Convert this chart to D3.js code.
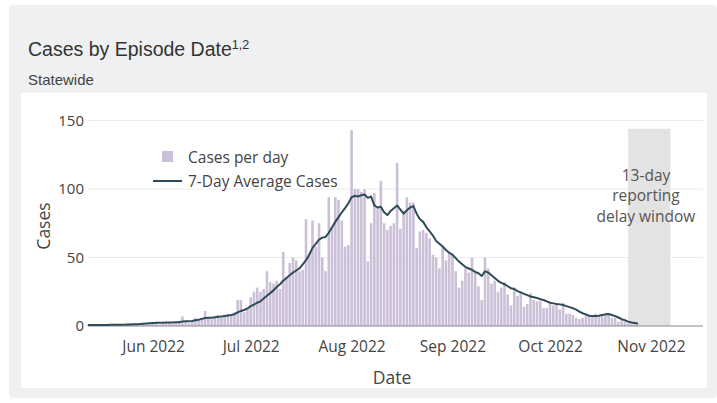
<!DOCTYPE html>
<html>
<head>
<meta charset="utf-8">
<script src="https://cdn.jsdelivr.net/npm/d3@7/dist/d3.min.js"></script>
<style>
  html, body { margin: 0; padding: 0; background: #ffffff; }
  svg { display: block; }
</style>
</head>
<body>
<svg id="chart" width="717" height="403"></svg>
<script>
// ---------------- DATA ----------------
const startDate = "2022-05-12";           // first day of the series
const casesPerDay = [
  // May 12 - May 31
  1,1,0,1,1,0,1,0,1,1,1,0,1,2,1,1,2,2,1,2,
  // Jun 1 - Jun 30
  3,2,1,2,3,2,2,3,4,7,3,2,3,6,5,6,11,6,5,7,8,6,7,9,8,10,19,19,10,13,
  // Jul 1 - Jul 31
  21,25,28,25,27,40,32,31,33,27,54,36,46,50,48,40,41,78,53,77,58,75,50,40,94,72,94,92,77,58,59,
  // Aug 1 - Aug 31
  143,100,100,98,100,47,75,97,86,106,75,70,73,75,119,71,84,94,90,90,57,69,70,68,64,52,50,42,58,48,53,
  // Sep 1 - Sep 30
  53,40,28,33,42,39,50,39,29,19,50,42,31,33,25,28,32,23,15,28,22,25,14,16,24,19,18,18,13,13,
  // Oct 1 - Oct 28
  16,15,16,12,17,9,9,8,6,5,6,9,7,7,9,8,7,8,8,6,6,3,5,3,2,1,1,1
];
const avgCases = [
  // May 12 - May 31
  0.8,0.8,0.8,0.8,0.8,0.8,0.8,0.9,0.9,1.0,1.0,1.0,1.1,1.1,1.2,1.3,1.4,1.6,1.8,2.0,
  // Jun 1 - Jun 30
  2.2,2.3,2.4,2.4,2.5,2.6,2.6,2.7,2.8,3.2,3.4,3.5,3.6,4.2,4.6,5.2,5.8,6.0,6.1,6.4,6.8,7.0,7.3,7.6,8.0,8.6,10.0,11.0,11.7,12.8,
  // Jul 1 - Jul 31
  14.5,15.5,17.0,18.0,20.0,22.0,24.0,26.0,28.5,30.5,33.0,35.0,37.0,39.0,40.5,42.0,45.0,48.0,52.0,57.0,60.0,63.0,64.5,65.0,68.0,72.0,76.0,79.5,83.0,86.0,89.5,
  // Aug 1 - Aug 31
  94.0,95.0,94.5,95.5,96.0,93.5,94.5,88.0,86.5,87.0,83.0,81.0,84.0,86.0,88.0,85.0,82.0,84.5,86.5,87.5,82.0,78.0,76.0,72.0,69.0,66.0,62.0,60.0,58.0,55.5,53.5,
  // Sep 1 - Sep 30
  52.0,49.5,47.0,45.0,43.0,42.0,41.0,39.5,38.5,36.5,40.0,39.0,37.0,35.0,33.0,31.5,30.5,29.0,27.5,27.0,25.5,24.5,23.5,22.5,21.5,21.0,20.5,19.5,19.0,18.0,
  // Oct 1 - Oct 28
  17.0,16.5,16.0,15.8,15.3,14.5,13.8,13.0,12.0,10.5,9.3,8.5,7.5,7.3,7.3,7.5,8.0,8.5,8.7,8.0,7.2,6.2,5.0,4.2,3.2,2.5,2.2,1.9
];
const xDomain = ["2022-05-12", "2022-11-17"];
const delayWindow = ["2022-10-25", "2022-11-07"];
const yTicks = [0, 50, 100, 150];
const xTickDates = ["2022-06-01","2022-07-01","2022-08-01","2022-09-01","2022-10-01","2022-11-01"];
const windowTop = 144;
const legendLabels = ["Cases per day", "7-Day Average Cases"];
const annotationLines = ["13-day", "reporting", "delay window"];

// ---------------- DRAW ----------------
const parse = d3.timeParse("%Y-%m-%d");
const t0 = parse(startDate);
const rows = casesPerDay.map((v, i) => ({ date: d3.timeDay.offset(t0, i), cases: v, avg: avgCases[i] }));

const svg = d3.select("#chart");
const W = 717;
const FONT = "Open Sans, sans-serif";
const TXT = "#444";

// card background
svg.append("rect").attr("x", 9).attr("y", 5).attr("width", W - 9).attr("height", 393)
  .attr("rx", 4).attr("fill", "#eef0f1");
// white panel
svg.append("rect").attr("x", 21).attr("y", 93).attr("width", 686).attr("height", 295)
  .attr("fill", "#ffffff");

// title
const title = svg.append("text").attr("x", 28).attr("y", 56)
  .attr("font-family", "Liberation Sans, Arial, sans-serif").attr("font-size", 19.5).attr("fill", "#333");
title.append("tspan").text("Cases by Episode Date");
title.append("tspan").attr("font-size", 12.5).attr("dy", -7).text("1,2");
svg.append("text").attr("x", 28).attr("y", 85)
  .attr("font-family", "Liberation Sans, Arial, sans-serif").attr("font-size", 15).attr("fill", "#444")
  .text("Statewide");

const x = d3.scaleTime().domain(xDomain.map(parse)).range([88, 703]);
const y = d3.scaleLinear().domain([0, 150]).range([326, 120.5]);
const dayW = x(d3.timeDay.offset(t0, 1)) - x(t0);

const g = svg.append("g");

// grid lines
g.selectAll(".grid").data(yTicks.filter(d => d > 0)).join("line")
  .attr("x1", 88).attr("x2", 703)
  .attr("y1", d => y(d)).attr("y2", d => y(d))
  .attr("stroke", "#ececec").attr("stroke-width", 1);

// delay window
g.append("rect")
  .attr("x", x(parse(delayWindow[0]))).attr("width", x(parse(delayWindow[1])) - x(parse(delayWindow[0])))
  .attr("y", y(windowTop)).attr("height", y(0) - y(windowTop))
  .attr("fill", "#e3e3e3");

// bars
g.selectAll(".bar").data(rows).join("rect")
  .attr("x", d => x(d.date) - dayW * 0.4)
  .attr("width", dayW * 0.8)
  .attr("y", d => y(d.cases))
  .attr("height", d => y(0) - y(d.cases))
  .attr("fill", "#cbc0d8");

// zero line
g.append("line").attr("x1", 88).attr("x2", 703).attr("y1", y(0)).attr("y2", y(0))
  .attr("stroke", "#8a8a8a").attr("stroke-width", 1.2);

// average line
g.append("path").datum(rows)
  .attr("fill", "none").attr("stroke", "#2f4b5a").attr("stroke-width", 2)
  .attr("stroke-linejoin", "round")
  .attr("d", d3.line().x(d => x(d.date)).y(d => y(d.avg)));

// y axis
const yAxis = svg.append("g").attr("transform", "translate(88,0)")
  .call(d3.axisLeft(y).tickValues(yTicks).tickSize(0).tickPadding(4));
yAxis.select(".domain").remove();
yAxis.selectAll("text").attr("font-family", FONT).attr("font-size", 15).attr("fill", TXT);

// x axis
const xAxis = svg.append("g").attr("transform", `translate(0,${y(0)})`)
  .call(d3.axisBottom(x).tickValues(xTickDates.map(parse)).tickFormat(d3.timeFormat("%b %Y")).tickSize(0).tickPadding(15));
xAxis.select(".domain").remove();
xAxis.selectAll("text").attr("font-family", FONT).attr("font-size", 15.5).attr("fill", TXT);

// axis titles
svg.append("text").attr("transform", "translate(50,226) rotate(-90)").attr("text-anchor", "middle")
  .attr("font-family", FONT).attr("font-size", 17.5).attr("fill", TXT).text("Cases");
svg.append("text").attr("x", 392).attr("y", 384).attr("text-anchor", "middle")
  .attr("font-family", FONT).attr("font-size", 17.5).attr("fill", TXT).text("Date");

// legend
const lg = svg.append("g");
lg.append("rect").attr("x", 162).attr("y", 151).attr("width", 11).attr("height", 11).attr("fill", "#cbc0d8");
lg.append("text").attr("x", 188).attr("y", 163).attr("font-family", FONT)
  .attr("font-size", 15.5).attr("fill", TXT).text(legendLabels[0]);
lg.append("line").attr("x1", 153).attr("x2", 182).attr("y1", 181).attr("y2", 181)
  .attr("stroke", "#2f4b5a").attr("stroke-width", 2);
lg.append("text").attr("x", 188).attr("y", 187).attr("font-family", FONT)
  .attr("font-size", 15.5).attr("fill", TXT).text(legendLabels[1]);

// annotation
svg.append("g").selectAll("text").data(annotationLines).join("text")
  .attr("x", 646).attr("y", (d, i) => 180.5 + i * 20.5).attr("text-anchor", "middle")
  .attr("font-family", FONT).attr("font-size", 15.5).attr("fill", "#555")
  .text(d => d);
</script>
</body>
</html>
